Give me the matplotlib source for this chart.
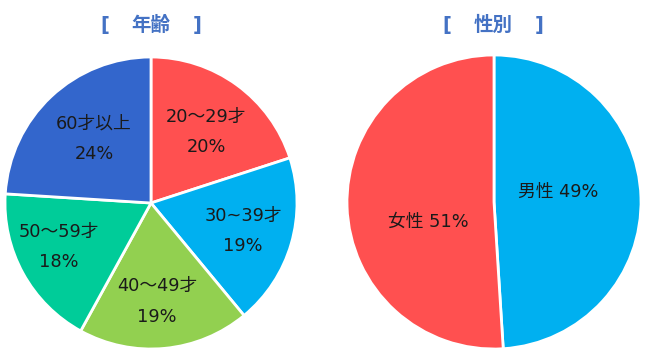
import numpy as np
import matplotlib
matplotlib.use("Agg")
import matplotlib.pyplot as plt

plt.rcParams['font.family'] = ['DejaVu Sans', 'Noto Sans CJK JP']

age_labels = ["20～29才", "30~39才", "40～49才", "50～59才", "60才以上"]
age_values = [20, 19, 19, 18, 24]
age_colors = ["#FF5050", "#00B0F0", "#92D050", "#00CC99", "#3366CC"]

sex_labels = ["男性", "女性"]
sex_values = [49, 51]
sex_colors = ["#00B0F0", "#FF5050"]

titles = ["年齢", "性別"]
title_color = "#4472C4"
W, H = 650, 358
fig = plt.figure(figsize=(W/100, H/100), dpi=100)

PAD = 1.01

def px_axes(cx, cy, r):
    rr = r * PAD
    return fig.add_axes([(cx - rr)/W, (H - cy - rr)/H, 2*rr/W, 2*rr/H])

def setup(ax):
    ax.set_xlim(-PAD, PAD); ax.set_ylim(-PAD, PAD); ax.set_aspect("equal")
    ax.axis("off")

# Left pie
ax1 = px_axes(151, 203, 146)
wedges, _ = ax1.pie(age_values, colors=age_colors, startangle=90, counterclock=False,
                    radius=1, wedgeprops=dict(edgecolor="white", linewidth=2))
setup(ax1)
age_r = [0.615, 0.659, 0.674, 0.701, 0.587]
age_da = [-1.8, -0.7, -1.9, -3.3, -1.5]
for w, lab, v, r, da in zip(wedges, age_labels, age_values, age_r, age_da):
    ang = np.deg2rad((w.theta1 + w.theta2) / 2 + da)
    x, y = r*np.cos(ang), r*np.sin(ang)
    ax1.text(x, y, f"{lab}\n{v}%", ha="center", va="center", fontsize=12.8,
             linespacing=1.9, color="#1a1a1a")

# Right pie
ax2 = px_axes(494, 202, 147)
wedges2, _ = ax2.pie(sex_values, colors=sex_colors, startangle=90, counterclock=False,
                     radius=1, wedgeprops=dict(edgecolor="white", linewidth=2))
setup(ax2)
sex_r = [0.440, 0.469]
sex_da = [7.1, 15.0]
for w, lab, v, r, da in zip(wedges2, sex_labels, sex_values, sex_r, sex_da):
    ang = np.deg2rad((w.theta1 + w.theta2) / 2 + da)
    x, y = r*np.cos(ang), r*np.sin(ang)
    ax2.text(x, y, f"{lab} {v}%", ha="center", va="center", fontsize=12.8,
             color="#1a1a1a")

for cx, t in zip([151, 493], titles):
    ty = 1 - 25/H
    kw = dict(ha="center", va="center", fontsize=14, fontweight="bold", color=title_color)
    fig.text((cx - 46)/W, ty, "[", **kw)
    fig.text(cx/W, ty, t, **kw)
    fig.text((cx + 46)/W, ty, "]", **kw)

fig.savefig("out.png", dpi=100, facecolor="white")
